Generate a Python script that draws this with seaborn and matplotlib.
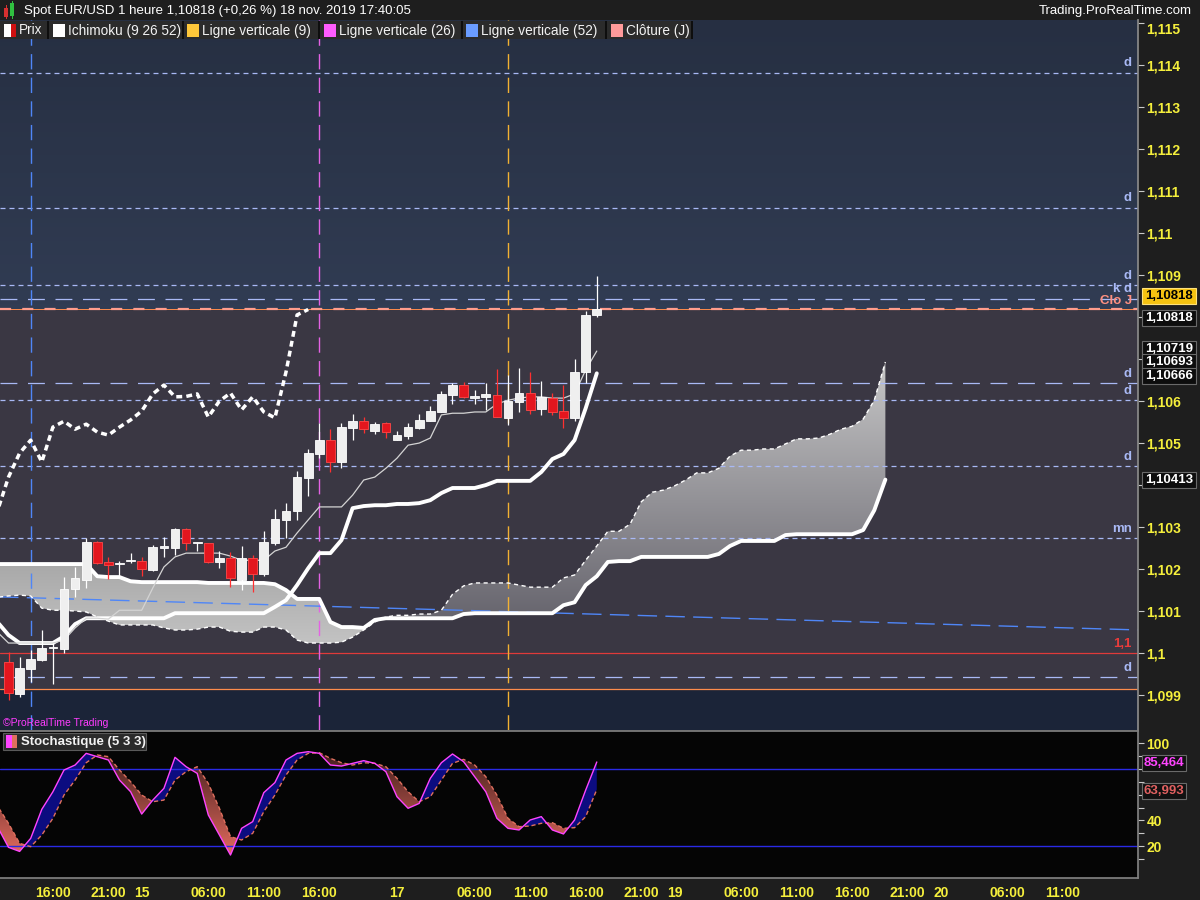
import numpy as np
import pandas as pd
import seaborn as sns
import matplotlib.pyplot as plt
import matplotlib.transforms as mtransforms
from matplotlib.path import Path
from matplotlib.patches import Rectangle
from matplotlib.colors import LinearSegmentedColormap

# --- Data: EUR/USD hourly bars, bar 0 = Thu 14 nov 12:00 ---
opens = [1.09979, 1.09902, 1.09962, 1.09983, 1.10011, 1.10010, 1.10152, 1.10174, 1.10264, 1.10217,
         1.10212, 1.10219, 1.10219, 1.10198, 1.10251, 1.10250, 1.10295, 1.10261, 1.10262, 1.10217,
         1.10226, 1.10174, 1.10226, 1.10188, 1.10262, 1.10317, 1.10338, 1.10417, 1.10474, 1.10507,
         1.10455, 1.10536, 1.10552, 1.10529, 1.10548, 1.10507, 1.10517, 1.10536, 1.10552, 1.10574,
         1.10614, 1.10638, 1.10608, 1.10610, 1.10614, 1.10560, 1.10598, 1.10619, 1.10581, 1.10607,
         1.10576, 1.10560, 1.10669, 1.10805]
highs = [1.10002, 1.09990, 1.10007, 1.10055, 1.10024, 1.10181, 1.10205, 1.10274, 1.10267, 1.10229,
         1.10219, 1.10238, 1.10229, 1.10257, 1.10276, 1.10298, 1.10298, 1.10264, 1.10263, 1.10243,
         1.10240, 1.10255, 1.10233, 1.10290, 1.10343, 1.10357, 1.10433, 1.10486, 1.10548, 1.10533,
         1.10548, 1.10569, 1.10562, 1.10550, 1.10550, 1.10529, 1.10548, 1.10569, 1.10588, 1.10624,
         1.10643, 1.10645, 1.10626, 1.10643, 1.10676, 1.10662, 1.10679, 1.10669, 1.10648, 1.10619,
         1.10638, 1.10700, 1.10814, 1.10898]
lows = [1.09888, 1.09895, 1.09931, 1.09981, 1.09926, 1.10000, 1.10133, 1.10155, 1.10212, 1.10176,
        1.10179, 1.10214, 1.10183, 1.10195, 1.10229, 1.10233, 1.10245, 1.10243, 1.10214, 1.10202,
        1.10157, 1.10150, 1.10145, 1.10183, 1.10257, 1.10274, 1.10317, 1.10374, 1.10464, 1.10431,
        1.10440, 1.10507, 1.10524, 1.10521, 1.10512, 1.10507, 1.10510, 1.10533, 1.10552, 1.10574,
        1.10593, 1.10607, 1.10593, 1.10579, 1.10562, 1.10543, 1.10574, 1.10569, 1.10567, 1.10567,
        1.10536, 1.10552, 1.10643, 1.10800]
closes = [1.09905, 1.09964, 1.09986, 1.10012, 1.10013, 1.10152, 1.10179, 1.10264, 1.10214, 1.10210,
          1.10214, 1.10221, 1.10200, 1.10252, 1.10254, 1.10295, 1.10262, 1.10263, 1.10217, 1.10226,
          1.10179, 1.10226, 1.10188, 1.10264, 1.10319, 1.10338, 1.10419, 1.10476, 1.10507, 1.10455,
          1.10538, 1.10552, 1.10533, 1.10545, 1.10526, 1.10519, 1.10538, 1.10555, 1.10576, 1.10617,
          1.10638, 1.10610, 1.10611, 1.10617, 1.10562, 1.10600, 1.10619, 1.10579, 1.10610, 1.10574,
          1.10560, 1.10669, 1.10805, 1.10818]

# Ichimoku lines, starting at bar -1
tenkan = [1.10050, 1.10024, 1.10024, 1.10024, 1.10024, 1.10024, 1.10031, 1.10060, 1.10083, 1.10083,
          1.10081, 1.10102, 1.10102, 1.10102, 1.10155, 1.10205, 1.10229, 1.10238, 1.10238, 1.10238,
          1.10238, 1.10231, 1.10221, 1.10221, 1.10221, 1.10243, 1.10252, 1.10286, 1.10317, 1.10348,
          1.10348, 1.10348, 1.10376, 1.10412, 1.10419, 1.10440, 1.10464, 1.10495, 1.10500, 1.10512,
          1.10567, 1.10571, 1.10571, 1.10574, 1.10574, 1.10593, 1.10602, 1.10607, 1.10610, 1.10610,
          1.10607, 1.10607, 1.10617, 1.10674, 1.10719]
kijun = [1.10074, 1.10043, 1.10024, 1.10024, 1.10024, 1.10024, 1.10040, 1.10069, 1.10083, 1.10083,
         1.10083, 1.10083, 1.10083, 1.10083, 1.10083, 1.10083, 1.10095, 1.10095, 1.10095, 1.10095,
         1.10095, 1.10095, 1.10095, 1.10095, 1.10095, 1.10110, 1.10126, 1.10162, 1.10202, 1.10238,
         1.10238, 1.10269, 1.10345, 1.10350, 1.10352, 1.10352, 1.10355, 1.10355, 1.10357, 1.10364,
         1.10381, 1.10393, 1.10393, 1.10393, 1.10400, 1.10410, 1.10410, 1.10410, 1.10410, 1.10431,
         1.10462, 1.10474, 1.10507, 1.10583, 1.10666]
# Senkou spans, bar -1 to bar 79 (26 bars ahead)
senkou_a = [1.10133, 1.10136, 1.10138, 1.10136, 1.10107, 1.10102, 1.10102, 1.10100, 1.10098, 1.10086,
            1.10076, 1.10067, 1.10067, 1.10067, 1.10067, 1.10060, 1.10055, 1.10055, 1.10057, 1.10062,
            1.10062, 1.10052, 1.10050, 1.10050, 1.10062, 1.10062, 1.10055, 1.10031, 1.10024, 1.10024,
            1.10024, 1.10026, 1.10038, 1.10055, 1.10074, 1.10086, 1.10090, 1.10090, 1.10093, 1.10093,
            1.10102, 1.10140, 1.10160, 1.10167, 1.10167, 1.10167, 1.10167, 1.10162, 1.10157, 1.10157,
            1.10157, 1.10179, 1.10186, 1.10221, 1.10255, 1.10290, 1.10290, 1.10307, 1.10360, 1.10383,
            1.10388, 1.10398, 1.10412, 1.10429, 1.10429, 1.10440, 1.10469, 1.10483, 1.10483, 1.10486,
            1.10486, 1.10498, 1.10510, 1.10510, 1.10512, 1.10521, 1.10533, 1.10540, 1.10557, 1.10602,
            1.10693]
senkou_b = [1.10212, 1.10212, 1.10212, 1.10212, 1.10212, 1.10212, 1.10212, 1.10212, 1.10212, 1.10183,
            1.10181, 1.10181, 1.10171, 1.10169, 1.10169, 1.10169, 1.10169, 1.10169, 1.10169, 1.10167,
            1.10167, 1.10167, 1.10167, 1.10167, 1.10167, 1.10164, 1.10150, 1.10129, 1.10129, 1.10129,
            1.10074, 1.10062, 1.10062, 1.10060, 1.10079, 1.10083, 1.10083, 1.10083, 1.10083, 1.10083,
            1.10083, 1.10083, 1.10093, 1.10095, 1.10095, 1.10095, 1.10095, 1.10095, 1.10095, 1.10095,
            1.10095, 1.10114, 1.10121, 1.10162, 1.10183, 1.10217, 1.10219, 1.10219, 1.10229, 1.10229,
            1.10229, 1.10229, 1.10229, 1.10229, 1.10229, 1.10236, 1.10255, 1.10267, 1.10267, 1.10267,
            1.10267, 1.10281, 1.10283, 1.10283, 1.10283, 1.10283, 1.10283, 1.10283, 1.10293, 1.10340,
            1.10413]

# Stochastic (5 3 3), starting at bar -1
stoch_k = [35.1, 19.0, 15.8, 26.0, 48.6, 62.3, 79.2, 83.1, 92.2, 89.6, 87.0, 71.4, 62.3, 44.9, 55.8,
           64.9, 89.1, 81.8, 76.6, 44.2, 28.6, 13.0, 33.8, 39.0, 61.6, 69.4, 87.0, 92.2, 93.5, 92.2,
           83.1, 82.3, 84.4, 86.5, 84.4, 77.9, 58.4, 49.4, 53.2, 72.7, 84.9, 91.7, 85.7, 74.0, 62.3,
           41.6, 33.8, 32.5, 40.3, 42.9, 32.5, 29.4, 40.3, 63.6, 85.464]
stoch_d = [51.2, 37.7, 22.1, 19.5, 28.6, 41.6, 59.7, 71.4, 84.9, 90.9, 89.6, 79.2, 70.1, 59.7, 54.5,
           55.8, 71.4, 77.9, 81.8, 68.8, 49.4, 27.3, 24.7, 29.9, 46.8, 59.7, 75.3, 87.0, 92.2, 92.7,
           88.3, 84.9, 83.1, 84.9, 84.4, 81.8, 72.7, 62.3, 54.5, 58.4, 71.4, 84.4, 87.5, 83.1, 74.0,
           59.7, 41.6, 35.1, 35.6, 37.7, 38.2, 33.8, 34.3, 42.9, 63.993]

# Horizontal levels
level_prices = [1.11381, 1.11060, 1.10876, 1.10843, 1.10643, 1.10602, 1.10445, 1.10274, 1.09943]
level_labels = ['d', 'd', 'd', 'k d', 'd', 'd', 'd', 'mn', 'd']
level_long = [False, False, False, True, True, False, False, False, True]
day_close = 1.10818
day_low = 1.09914
round_level = 1.1
trend_bars = [-1, 102]
trend_prices = [1.10134, 1.10055]
vline_bars = [2, 28, 45]
vline_colors = ['#4f86f7', '#e462e4', '#f2b132']

tick_bars = [4, 9, 12, 18, 23, 28, 35, 42, 47, 52, 57, 60, 66, 71, 76, 81, 84, 90, 95, 100]
tick_labels = ['16:00', '21:00', '15', '06:00', '11:00', '16:00', '17', '06:00', '11:00', '16:00',
               '21:00', '19', '06:00', '11:00', '16:00', '21:00', '20', '06:00', '11:00', '']
minor_bars = [13, 33, 37]
price_ticks = [1.099, 1.100, 1.101, 1.102, 1.103, 1.104, 1.105, 1.106, 1.107, 1.108, 1.109,
               1.110, 1.111, 1.112, 1.113, 1.114, 1.115]
hidden_ticks = [1.104, 1.107, 1.108]
stoch_ticks = [20, 40, 60, 80, 100]
stoch_tick_labels = ['20', '40', '', '', '100']

# --- Setup ---
sns.set_theme(style='dark', rc={'axes.grid': False})
plt.rcParams['font.family'] = ['Liberation Sans', 'DejaVu Sans']

W, H = 1200, 900
def fx(x):
    return x / W
def fy(y):
    return 1 - y / H

fig = plt.figure(figsize=(12, 9), dpi=100, facecolor='#1e1e1e')
ax = fig.add_axes([0, fy(730), fx(1138), (730 - 20) / H])
ax2 = fig.add_axes([0, fy(878), fx(1138), (878 - 731) / H])

x_min, x_max = -0.766, 101.76
p_min, p_max = 1.09817, 1.11507
YEL = '#f5ef3c'
LVL = '#a9b9f5'

bars = np.arange(len(closes))
ich_x = np.arange(-1, -1 + len(tenkan))
cloud_x = np.arange(-1, -1 + len(senkou_a))
st_x = np.arange(-1, -1 + len(stoch_k))


def gradient_fill(axis, x, y1, y2, where, colors, lo, hi, z):
    poly = axis.fill_between(x, y1, y2, where=where, interpolate=True,
                             facecolor='none', edgecolor='none')
    clip = Path.make_compound_path(*poly.get_paths())
    poly.remove()
    cmap = LinearSegmentedColormap.from_list('g', colors)
    im = axis.imshow(np.linspace(0, 1, 256).reshape(-1, 1), extent=[x_min, x_max, lo, hi],
                     origin='lower', aspect='auto', cmap=cmap, zorder=z, interpolation='bilinear')
    im.set_clip_path(clip, axis.transData)


# --- [1] Price panel background ---
ax.set_facecolor('#3a3743')
top_cmap = LinearSegmentedColormap.from_list('top', ['#313c53', '#262f42'])
ax.imshow(np.linspace(0, 1, 64).reshape(-1, 1), extent=[x_min, x_max, day_close, p_max],
          origin='lower', aspect='auto', cmap=top_cmap, zorder=0)
ax.axhspan(p_min, day_low, color='#1b2438', lw=0, zorder=0)

# --- [2] Ichimoku cloud ---
sa = np.array(senkou_a)
sb = np.array(senkou_b)
gradient_fill(ax, cloud_x, sa, sb, sa >= sb, ['#5a5862', '#cbcbcb'], 1.1000, 1.1072, 1)
gradient_fill(ax, cloud_x, sa, sb, sb > sa, ['#c6c6c6', '#a6a6a6'], 1.1000, 1.1023, 1)

# --- [3] Levels and vertical lines ---
blend = mtransforms.blended_transform_factory(ax.transAxes, ax.transData)
for p, lab, long_dash in zip(level_prices, level_labels, level_long):
    ls = (0, (13.5, 8.5)) if long_dash else (0, (4, 3.2))
    ax.axhline(p, color=LVL, lw=0.9, ls=ls, zorder=2)
    ax.annotate(lab, xy=(0.9945, p), xycoords=blend, xytext=(0, 2.5), textcoords='offset points',
                ha='right', va='bottom', color=LVL, fontsize=9.5, fontweight='bold', zorder=7)

ax.axhline(round_level, color='#e03a3a', lw=0.9, zorder=2)
ax.annotate('1,1', xy=(0.9945, round_level), xycoords=blend, xytext=(0, 2.5), textcoords='offset points',
            ha='right', va='bottom', color='#e83c3c', fontsize=9.5, fontweight='bold', zorder=7)
ax.axhline(day_low, color='#ff8c4c', lw=0.9, zorder=2)
ax.axhline(day_close, color='#ff8c4c', lw=0.7, zorder=2)
ax.axhline(day_close, color='#ff9d8d', lw=1.6, ls=(0, (5, 5)), zorder=2)
ax.annotate('Clo J', xy=(0.9945, day_close), xycoords=blend, xytext=(0, 1.5), textcoords='offset points',
            ha='right', va='bottom', color='#ff9080', fontsize=9.5, fontweight='bold', zorder=7)

for b, col in zip(vline_bars, vline_colors):
    ax.axvline(b, color=col, lw=1.0, ls=(0, (11, 6)), zorder=2)

sns.lineplot(x=trend_bars, y=trend_prices, ax=ax, color='#4f86f7', lw=1.0, ls=(0, (14, 6)), zorder=2)

# --- [4] Ichimoku lines ---
sns.lineplot(x=cloud_x, y=senkou_a, ax=ax, color='white', lw=1.0, ls=(0, (3, 2.5)), zorder=3)
sns.lineplot(x=cloud_x, y=senkou_b, ax=ax, color='white', lw=2.8, zorder=3)
sns.lineplot(x=ich_x, y=kijun, ax=ax, color='white', lw=2.8, zorder=3)
sns.lineplot(x=ich_x, y=tenkan, ax=ax, color='#d4d4d4', lw=0.9, zorder=3)
sns.lineplot(x=bars - 26, y=closes, ax=ax, color='white', lw=2.5, ls=(0, (1.7, 1.2)), zorder=3)

# --- [5] Candles ---
o = np.array(opens); c = np.array(closes); h = np.array(highs); l = np.array(lows)
up = c >= o
body_low = np.minimum(o, c)
body_h = np.maximum(np.abs(c - o), 0.00003)
ax.vlines(bars[up], l[up], h[up], color='white', lw=0.9, zorder=5)
ax.vlines(bars[~up], l[~up], h[~up], color='#ff3030', lw=0.9, zorder=5)
ax.bar(bars[up], body_h[up], bottom=body_low[up], width=0.78, color='#efefef',
       edgecolor='#ffffff', lw=0.6, zorder=6)
ax.bar(bars[~up], body_h[~up], bottom=body_low[~up], width=0.78, color='#e3161e',
       edgecolor='#ff4848', lw=0.6, zorder=6)

# --- [6] Price axis ---
ax.set_xlim(x_min, x_max)
ax.set_ylim(p_min, p_max)
ax.set_xticks([])
ax.yaxis.tick_right()
price_labels = ['' if any(abs(t - hdn) < 1e-9 for hdn in hidden_ticks)
                else f"{t:.3f}".rstrip('0').rstrip('.').replace('.', ',') for t in price_ticks]
ax.set_yticks(price_ticks, price_labels)
ax.tick_params(axis='y', colors='#c8c8c8', length=4, width=0.8, pad=2, labelcolor=YEL, labelsize=10)
for t in ax.get_yticklabels():
    t.set_fontweight('bold')
ax.get_yticklabels()[-1].set_va('top')
ax.set_xlabel(''); ax.set_ylabel('')
for s in ax.spines.values():
    s.set_visible(False)
ax.spines['right'].set_visible(True)
ax.spines['right'].set_color('#8a8a8a')

# --- [7] Stochastic panel ---
ax2.set_facecolor('#050505')
k_arr = np.array(stoch_k); d_arr = np.array(stoch_d)
ax2.fill_between(st_x, k_arr, d_arr, where=k_arr >= d_arr, interpolate=True,
                 color='#0c0c80', lw=0, zorder=1)
gradient_fill(ax2, st_x, k_arr, d_arr, k_arr < d_arr, ['#ea6e60', '#3a1a1a'], 10, 96, 1)
ax2.axhline(80, color='#2a2ae6', lw=1.0, zorder=2)
ax2.axhline(20, color='#2a2ae6', lw=1.0, zorder=2)
sns.lineplot(x=st_x, y=stoch_d, ax=ax2, color='#e0705e', lw=1.0, ls=(0, (3, 2)), zorder=3)
sns.lineplot(x=st_x, y=stoch_k, ax=ax2, color='#ff44ff', lw=1.0, zorder=4)
ax2.set_xlim(x_min, x_max)
ax2.set_ylim(-4.9, 109.6)
ax2.yaxis.tick_right()
ax2.set_yticks(stoch_ticks, stoch_tick_labels)
ax2.set_yticks([10, 30, 50, 70, 90], minor=True)
ax2.tick_params(axis='y', which='both', colors='#c8c8c8', length=4, width=0.8, pad=2,
                labelcolor=YEL, labelsize=10)
ax2.set_xticks(tick_bars, tick_labels)
ax2.set_xticks(minor_bars, minor=True)
ax2.tick_params(axis='x', which='both', colors='#9a9a9a', length=4, width=0.8, pad=2,
                labelcolor=YEL, labelsize=10)
for t in ax2.get_yticklabels() + ax2.get_xticklabels():
    t.set_fontweight('bold')
ax2.set_xlabel(''); ax2.set_ylabel('')
for s in ax2.spines.values():
    s.set_visible(False)
for side in ['right', 'top', 'bottom']:
    ax2.spines[side].set_visible(True)
    ax2.spines[side].set_color('#808080')

# --- [8] Title bar and legends ---
def frect(x0, y0, x1, y1, fc, ec='none', lw=0.0, z=5):
    fig.add_artist(Rectangle((fx(x0), fy(y1)), (x1 - x0) / W, (y1 - y0) / H,
                             transform=fig.transFigure, fc=fc, ec=ec, lw=lw, zorder=z))

# small candle icon
frect(4, 8, 8, 17, '#d83030'); frect(5.5, 5, 6.5, 19, '#d83030')
frect(10, 3, 14, 16, '#30c040'); frect(11.5, 1, 12.5, 19, '#30c040')
fig.text(fx(24), fy(11), 'Spot EUR/USD 1 heure 1,10818 (+0,26 %) 18 nov. 2019 17:40:05',
         color='white', fontsize=9.5, va='center', ha='left')
fig.text(fx(1192), fy(11), 'Trading.ProRealTime.com', color='white', fontsize=9.5,
         va='center', ha='right')

legend_names = ['Prix', 'Ichimoku (9 26 52)', 'Ligne verticale (9)', 'Ligne verticale (26)',
                'Ligne verticale (52)', 'Clôture (J)']
legend_colors = ['#ffffff', '#ffffff', '#ffc83a', '#ff5cff', '#6a9cff', '#ff9a9a']
legend_x = [4, 53, 187, 324, 466, 611]
frect(0, 21, 692, 39, '#2b2b2b')
for sx in [48, 183, 319, 462, 606, 692]:
    frect(sx - 1, 21, sx + 1, 39, '#0e0e0e')
for name, col, sx in zip(legend_names, legend_colors, legend_x):
    frect(sx, 24, sx + 12, 37, col, z=6)
    fig.text(fx(sx + 15), fy(30.5), name, color='#f2f2f2', fontsize=9.8, va='center', ha='left', zorder=7)
frect(11, 24, 16, 37, '#d01010', z=6)

fig.text(fx(3), fy(723), '©ProRealTime Trading', color='#ff3cff', fontsize=7.5, va='center', ha='left')
frect(3, 733, 146, 750, '#2b2b2b', ec='#5a5a5a', lw=0.8)
frect(6, 735, 12, 748, '#ff44ff', z=6)
frect(12, 735, 17, 748, '#e0705e', z=6)
fig.text(fx(21), fy(741.5), 'Stochastique (5 3 3)', color='#f2f2f2', fontsize=9.5,
         fontweight='bold', va='center', ha='left', zorder=7)

# --- [9] Value boxes on the right scale ---
def value_box(y, txt, fc, tc, ec, x0=1142, x1=1196):
    frect(x0, y - 8, x1, y + 8, fc, ec=ec, lw=0.8, z=8)
    fig.text(fx((x0 + x1) / 2), fy(y), txt, color=tc, fontsize=9.5, fontweight='bold',
             va='center', ha='center', zorder=9)

def fmt5(v):
    return f"{v:.5f}".replace('.', ',')

value_box(296, fmt5(closes[-1]), '#f5c211', '#000000', '#ffe27a')
value_box(318, fmt5(closes[-1]), '#0d0d0d', '#ffffff', '#6a6a6a')
value_box(349, fmt5(tenkan[-1]), '#0d0d0d', '#ffffff', '#6a6a6a')
value_box(362, fmt5(senkou_a[-1]), '#0d0d0d', '#ffffff', '#6a6a6a')
value_box(376, fmt5(kijun[-1]), '#0d0d0d', '#ffffff', '#6a6a6a')
value_box(480, fmt5(senkou_b[-1]), '#0d0d0d', '#ffffff', '#6a6a6a')
value_box(763, f"{stoch_k[-1]:.3f}".replace('.', ','), '#111111', '#ff44ff', '#6a6a6a', 1142, 1186)
value_box(791, f"{stoch_d[-1]:.3f}".replace('.', ','), '#111111', '#e06060', '#6a6a6a', 1142, 1186)

fig.savefig('out.png', dpi=100, facecolor=fig.get_facecolor())
